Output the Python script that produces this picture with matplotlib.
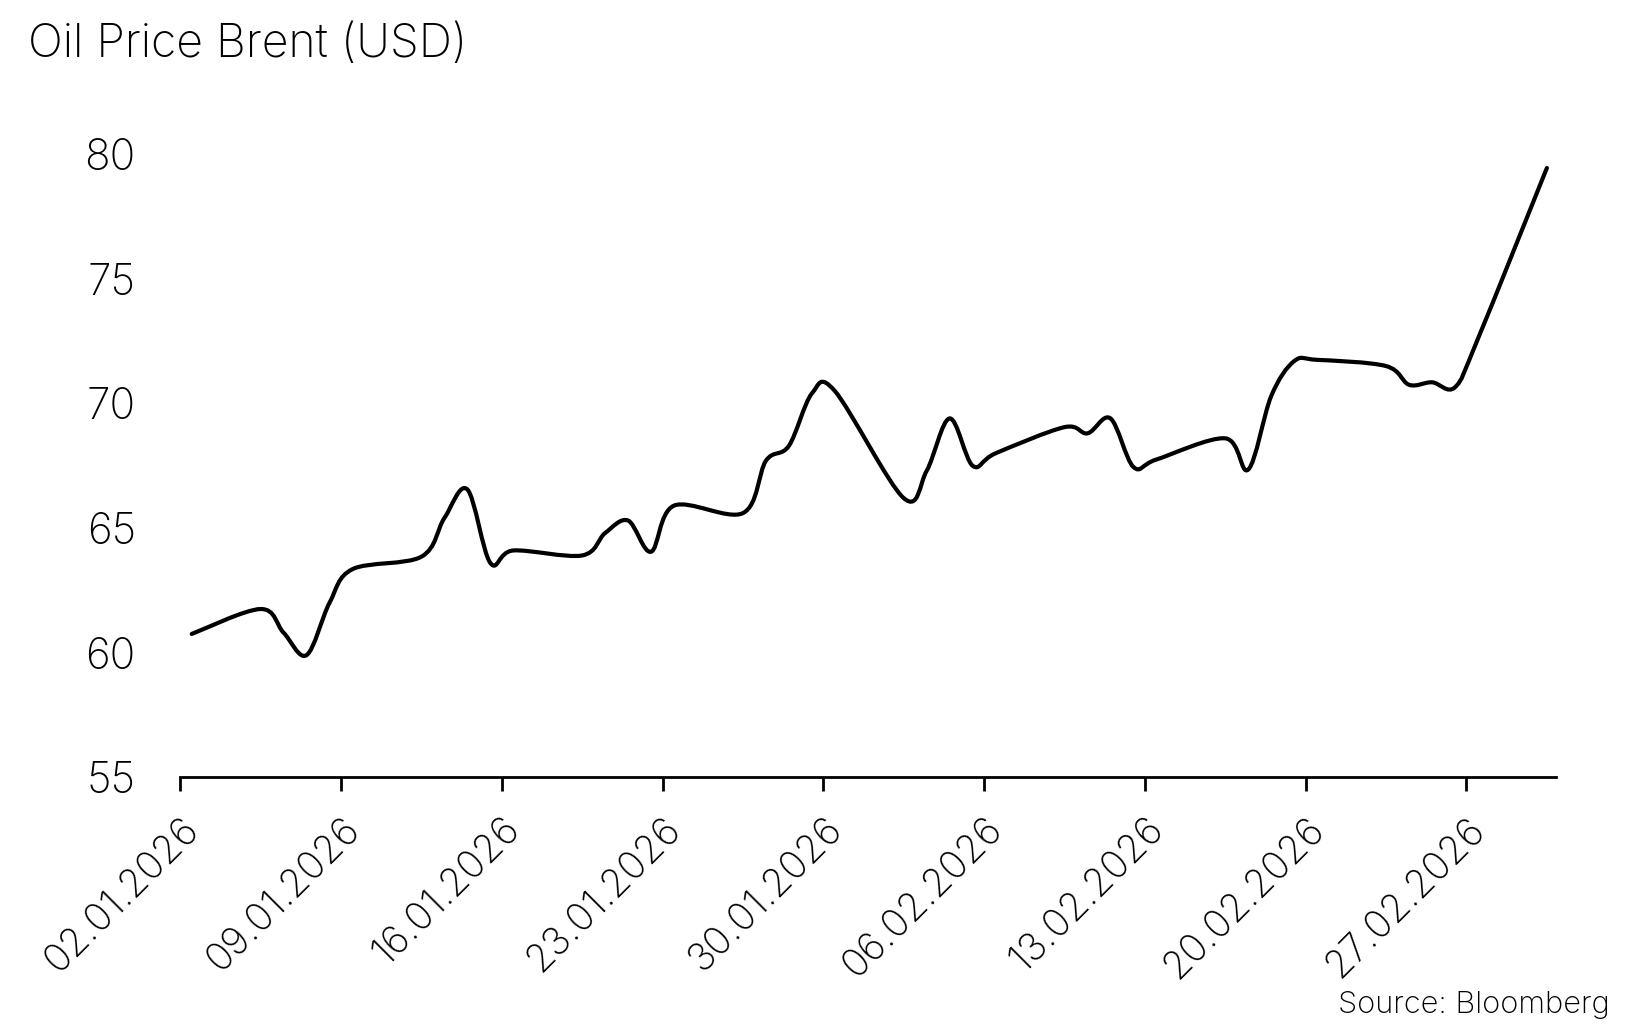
import matplotlib
matplotlib.use("Agg")
import matplotlib.pyplot as plt
import matplotlib.dates as mdates
from matplotlib.path import Path
from matplotlib.patches import PathPatch
import pandas as pd
import numpy as np

plt.rcParams['font.family'] = ['Inter', 'DejaVu Sans']
plt.rcParams['font.weight'] = 'light'

dates = ["02.01.2026", "05.01.2026", "06.01.2026", "07.01.2026", "08.01.2026", "09.01.2026",
         "12.01.2026", "13.01.2026", "14.01.2026", "15.01.2026", "16.01.2026",
         "19.01.2026", "20.01.2026", "21.01.2026", "22.01.2026", "23.01.2026",
         "26.01.2026", "27.01.2026", "28.01.2026", "29.01.2026", "30.01.2026",
         "02.02.2026", "03.02.2026", "04.02.2026", "05.02.2026", "06.02.2026",
         "09.02.2026", "10.02.2026", "11.02.2026", "12.02.2026", "13.02.2026",
         "16.02.2026", "17.02.2026", "18.02.2026", "19.02.2026", "20.02.2026",
         "23.02.2026", "24.02.2026", "25.02.2026", "26.02.2026", "27.02.2026",
         "02.03.2026"]
brent = [60.75, 61.75, 60.8, 59.9, 62.0, 63.35,
         63.85, 65.4, 66.55, 63.6, 64.1,
         63.9, 64.8, 65.3, 64.05, 65.9,
         65.6, 67.7, 68.3, 70.4, 70.5,
         66.2, 67.3, 69.4, 67.5, 68.0,
         69.05, 68.8, 69.4, 67.45, 67.75,
         68.6, 67.35, 70.3, 71.7, 71.75,
         71.5, 70.75, 70.85, 70.65, 72.6,
         79.45]
tick_dates = ["02.01.2026", "09.01.2026", "16.01.2026", "23.01.2026", "30.01.2026",
              "06.02.2026", "13.02.2026", "20.02.2026", "27.02.2026"]
y_ticks = [55, 60, 65, 70, 75, 80]

fig = plt.figure(figsize=(16.34, 10.24), dpi=100)
ax = fig.add_axes([0.1103, 0.241, 0.842, 0.657])

# daily closes sit at midday, smooth curve (catmull-rom -> bezier)
x = mdates.date2num(pd.to_datetime(dates, format="%d.%m.%Y")) + 0.5
y = np.array(brent)
pts = np.column_stack([x, y])
ext = np.vstack([pts[0], pts, pts[-1]])
verts = [pts[0]]
codes = [Path.MOVETO]
for i in range(1, len(ext) - 2):
    p0, p1, p2, p3 = ext[i - 1], ext[i], ext[i + 1], ext[i + 2]
    verts += [p1 + (p2 - p0) / 6, p2 - (p3 - p1) / 6, p2]
    codes += [Path.CURVE4] * 3
ax.add_patch(PathPatch(Path(verts, codes), fill=False, lw=3.0, color='black',
                       capstyle='round', joinstyle='round'))

t = mdates.date2num(pd.to_datetime(tick_dates, format="%d.%m.%Y"))
ax.set_xlim(t[0], t[0] + 59.9)
ax.set_ylim(55, 82)
ax.set_xticks(t)
ax.set_xticklabels(tick_dates, rotation=45, ha='right', va='top', rotation_mode='anchor')
ax.set_yticks(y_ticks)

for s in ['top', 'right', 'left']:
    ax.spines[s].set_visible(False)
ax.spines['bottom'].set_linewidth(2)
ax.tick_params(axis='x', length=10, width=2, labelsize=28, pad=14)
ax.tick_params(axis='y', length=0, labelsize=30.5, pad=32)

fig.text(0.017, 1 - 57 / 1024, "Oil Price Brent (USD)", fontsize=33.3, va='baseline', ha='left')
fig.text(0.9853, 1 - 1013 / 1024, "Source: Bloomberg", fontsize=22.2, va='baseline', ha='right')

plt.savefig("out.png", dpi=100)
